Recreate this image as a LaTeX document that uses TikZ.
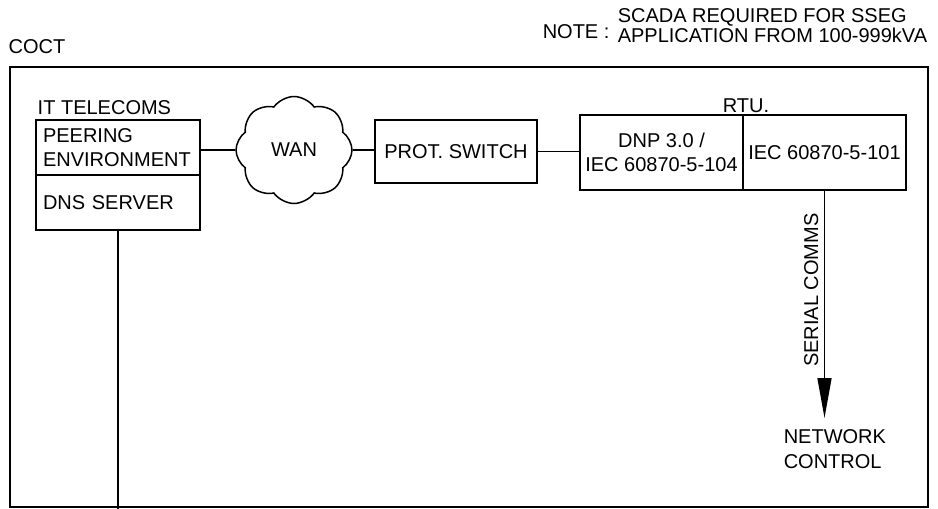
\documentclass[tikz,border=0pt]{standalone}
\usepackage{fontspec}
\setmainfont{Liberation Sans}
\usetikzlibrary{shapes.symbols,arrows.meta}

\begin{document}
\begin{tikzpicture}[
            x=1pt, y=-1pt,
            line width=1.5pt,
            every node/.style={font=\fontsize{20}{24.5}\selectfont, inner sep=0pt},
            box/.style={draw, outer sep=0pt},
            tel/.style={box, minimum width=164, minimum height=55, text width=150, align=left},
            rtu/.style={box, minimum width=163, minimum height=75, align=center},
        ]
        \useasboundingbox (0,0) rectangle (938,509);
        \draw (10,67) rectangle (928,507);
        \node[anchor=base west] (coct) at (8,53) {COCT};
        \node[anchor=base west] (note) at (542,38) {NOTE :};
        \node[anchor=north west, align=left, font=\fontsize{20}{20}\selectfont] (scada) at (617,8)
            {SCADA REQUIRED FOR SSEG\\APPLICATION FROM 100-999kVA};
        \node[anchor=base west] (it) at (37,114) {IT TELECOMS};
        \node[tel] (peer) at (118,147.5) {PEERING\\ENVIRONMENT};
        \node[tel] (dns) at (118,202.5) {DNS SERVER};
        \node[cloud, draw, cloud puffs=8, cloud puff arc=110, minimum width=116, minimum height=107] (wan) at (294,150) {WAN};
        \node[box, minimum width=162, minimum height=63] (sw) at (456,151.5) {PROT. SWITCH};
        \node[rtu] (dnp) at (661.5,152.5) {DNP 3.0 /\\IEC 60870-5-104};
        \node[rtu, anchor=west] (iec) at (dnp.east) {IEC 60870-5-101};
        \node[anchor=base] (rtulbl) at (746,112) {RTU.};
        \node[rotate=90, anchor=base] (serial) at (818,290) {SERIAL COMMS};
        \node[anchor=north west, align=left] (nc) at (783,429) {NETWORK\\CONTROL};
        \coordinate (tip) at (824.5,418);
        \coordinate (down) at (118,509);
        \draw (peer.east |- wan.west) -- (wan.west);
        \draw (wan.east) -- (wan.east -| sw.west);
        \draw (sw.east) -- (sw.east -| dnp.west);
        \draw[-{Triangle[length=40pt,width=14pt]}] (iec.south) -- (tip);
        \draw (dns.south) -- (down);
\end{tikzpicture}
\end{document}
